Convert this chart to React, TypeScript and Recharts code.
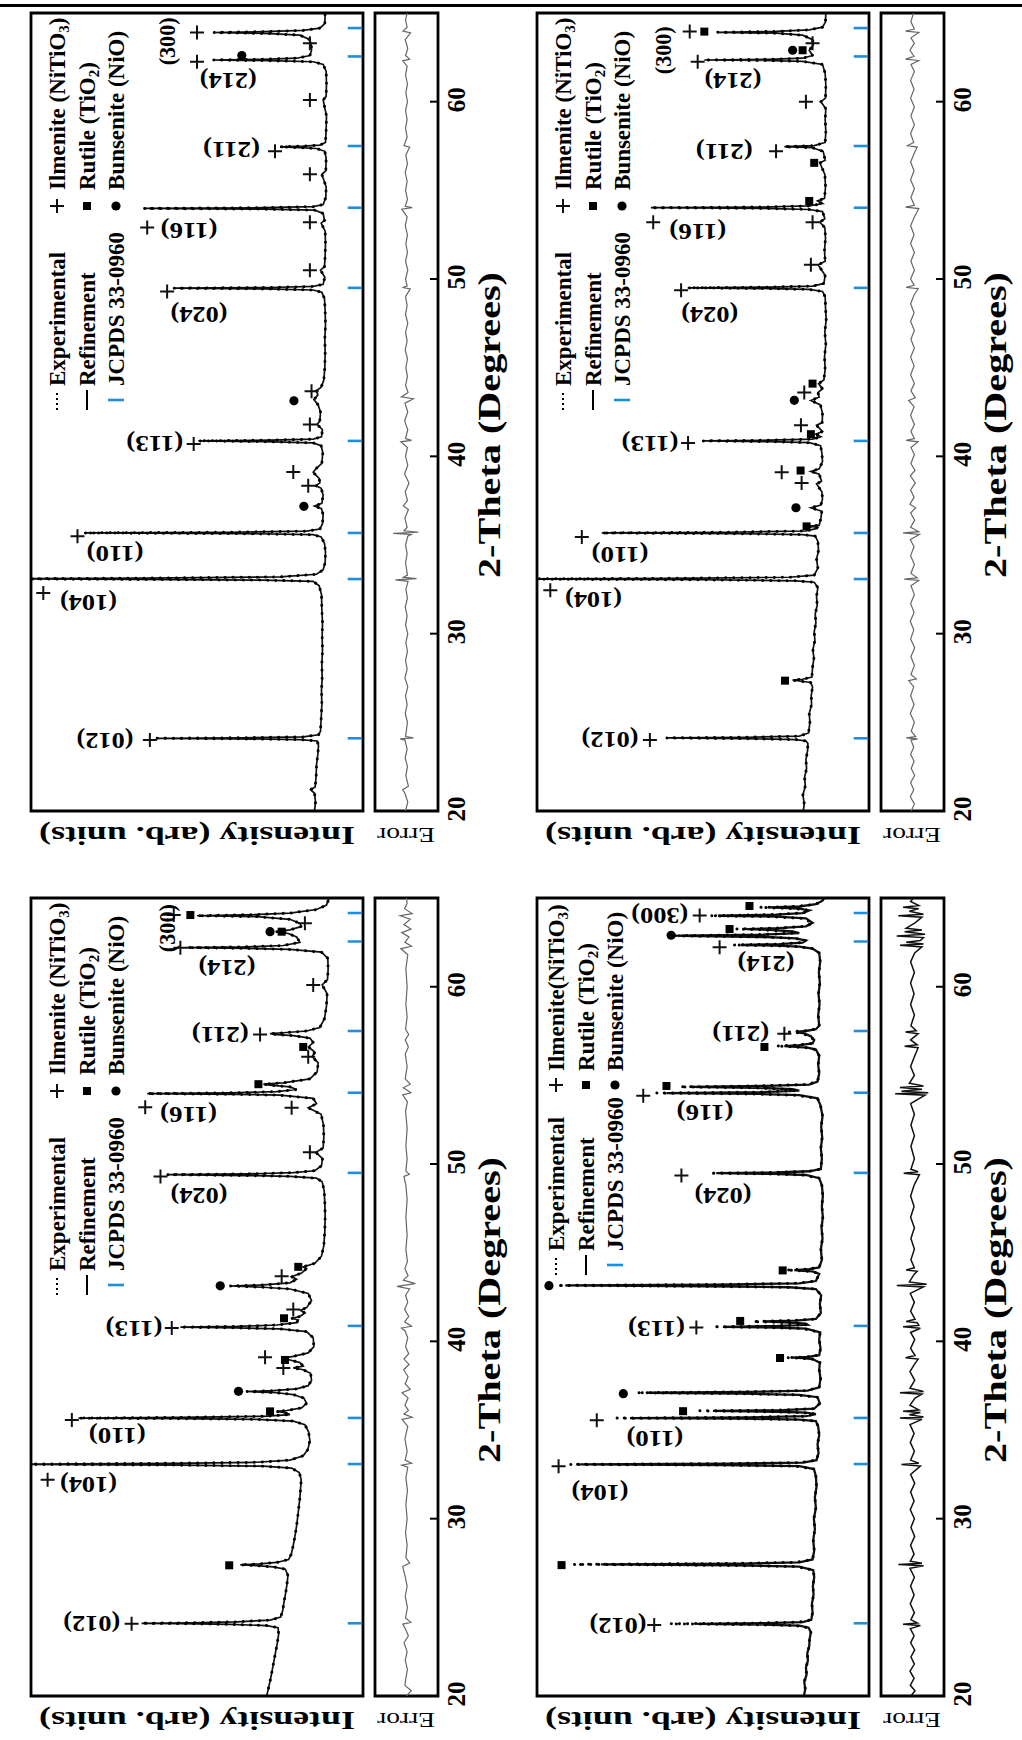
import React from "react";
import { ComposedChart, Line, Scatter, XAxis, YAxis, ReferenceArea, ReferenceLine } from "recharts";

const SERIF = "'Liberation Serif','Times New Roman',Times,serif";
const X_DOMAIN: [number, number] = [20, 65];
const X_TICKS = [20, 30, 40, 50, 60];
const JCPDS = [24.1, 33.08, 35.68, 40.87, 49.5, 54.02, 57.5, 62.55, 64.15];

// ---------- Top-left sample ----------
const TL_OBS: [number, number][] = [
  [20.0,14.6],[20.5,14.3],[21.0,14.6],[21.2,15.8],[21.35,14.4],[22.0,14.1],[22.6,14.0],[23.2,13.6],[23.7,13.4],
  [23.95,13.8],[24.03,19],[24.07,38],[24.1,62],[24.13,36],[24.18,18],[24.3,13.4],[24.5,12.8],
  [25.2,12.6],[26.0,12.4],[26.8,12.5],[27.5,12.3],[28.3,12.4],[29.0,12.2],[29.8,12.3],[30.6,12.2],[31.4,12.4],[32.2,12.5],[32.7,13.2],
  [32.95,15],[33.02,30],[33.06,70],[33.09,112],[33.13,65],[33.2,25],[33.35,14],[33.6,12.0],[34.0,11.4],[34.6,11.3],[35.1,11.6],[35.45,12.6],
  [35.58,15],[35.64,35],[35.68,84],[35.72,40],[35.78,17],[35.9,13],[36.2,12.2],[36.7,12.0],
  [37.05,12.5],[37.2,14.6],[37.35,12.4],[37.8,12.0],
  [38.2,12.6],[38.35,14.2],[38.5,13],[38.75,13.2],[39.1,15.0],[39.3,14.2],[39.6,12.4],[40.2,12.1],[40.6,12.6],
  [40.76,15],[40.83,30],[40.87,49.6],[40.91,28],[40.97,15],[41.1,12.5],[41.5,12.2],
  [41.8,13.8],[42.0,13.0],[42.5,12.8],[42.9,13.5],[43.2,14.8],[43.45,13.6],[43.7,14.0],[43.9,12.6],[44.3,11.8],[45.0,11.5],[45.8,11.4],[46.6,11.5],[47.4,11.3],[48.2,11.4],[48.9,11.6],[49.25,12.4],
  [49.38,15],[49.44,30],[49.48,57],[49.52,28],[49.58,15],[49.7,12],[50.1,11.5],[50.5,12.8],[50.7,11.6],[51.3,11.4],[52.0,11.3],[52.7,11.4],[53.15,12.6],[53.3,11.6],[53.7,12],
  [53.88,14.5],[53.94,30],[53.98,66],[54.02,30],[54.08,15],[54.2,12],[54.6,11.2],[55.2,11.1],[55.9,12.4],[56.1,11.2],[56.8,11.1],[57.2,11.5],
  [57.36,14],[57.41,19],[57.45,25],[57.49,18],[57.55,13],[57.7,11.3],[58.4,11.1],[59.2,11.0],[60.1,12.0],[60.3,11.1],[61.0,11.0],[61.7,11.1],[62.1,12],
  [62.25,15],[62.31,28],[62.35,45],[62.39,30],[62.45,20],[62.6,16],[62.9,15.5],[63.2,15.6],[63.5,16],[63.75,19],
  [63.84,28],[63.9,45],[63.95,30],[64.02,18],[64.15,13],[64.4,11.5],[65.0,11.4],
];
const TL_ERR: [number, number][] = [
  [20,0.3],[20.5,-0.4],[21,0.5],[21.2,1.2],[21.4,-0.6],[22,0.2],[22.5,-0.3],[23,0.4],[23.5,-0.2],[24.0,0.5],[24.07,2],[24.12,-2.2],[24.2,0.3],
  [25,-0.3],[25.5,0.4],[26,-0.2],[26.5,0.3],[27,-0.4],[27.5,0.5],[28,-0.2],[28.5,0.3],[29,-0.3],[29.5,0.2],[30,-0.4],[30.5,0.3],[31,-0.2],[31.5,0.4],[32,-0.3],[32.5,0.2],
  [32.95,-0.5],[33.03,3.5],[33.1,-3.2],[33.18,1],[33.3,-0.3],[34,0.3],[34.5,-0.2],[35,0.3],[35.5,-0.4],[35.6,-1.5],[35.66,4.2],[35.72,-3.8],[35.8,0.8],
  [36,-0.2],[36.5,0.5],[37,-0.6],[37.2,1],[37.5,-0.3],[38,0.4],[38.5,-0.8],[39,0.6],[39.5,-0.4],[40,0.3],[40.5,-0.3],[40.82,1.8],[40.9,-1.6],[41,0.3],
  [41.5,-0.4],[42,0.6],[42.5,-0.4],[43,0.5],[43.25,-2.2],[43.35,1.6],[43.6,-0.5],[44,0.3],[44.5,-0.3],[45,0.2],[45.5,-0.3],[46,0.4],[46.5,-0.2],[47,0.3],[47.5,-0.4],[48,0.3],[48.5,-0.2],[49,0.3],
  [49.44,-1.2],[49.52,1.3],[49.6,-0.2],[50,0.3],[50.5,-0.4],[51,0.3],[51.5,-0.3],[52,0.2],[52.5,-0.3],[53,0.4],[53.5,-0.2],[53.94,1.5],[54.02,-1.8],[54.1,0.4],
  [54.5,-0.3],[55,0.3],[55.5,-0.2],[56,0.4],[56.5,-0.3],[57,0.2],[57.43,-1],[57.52,0.8],[58,-0.2],[58.5,0.3],[59,-0.2],[59.5,0.3],[60,-0.3],[60.5,0.2],[61,-0.3],[61.5,0.3],[62,-0.2],
  [62.3,1.2],[62.4,-1.0],[62.6,0.3],[63,-0.4],[63.5,0.4],[63.88,-1.3],[63.98,1.1],[64.2,-0.2],[64.6,0.3],[65,-0.2],
];
const TL_ILM: [number, number][] = [
  [24.0,64.2],[32.3,96.3],[35.5,86],[38.34,16.5],[39.12,21],[40.7,51],[41.8,16],[43.67,15.5],[49.3,59],[50.5,16],[53.2,16],[52.9,65],[55.9,16],[57.2,26.5],[60.1,16],[62.25,50],[63.3,16],[63.9,50],
];
const TL_RUT: [number, number][] = [];
const TL_NIO: [number, number][] = [[37.18,17.8],[43.13,20.8],[62.6,36.5]];
const TL_HKL: [string, number, number, number][] = [
  ["(012)",23.98,77.7,0],["(104)",31.75,82.7,0],["(110)",34.5,74.7,0],["(113)",40.7,62.7,0],["(024)",48.0,49.4,0],
  ["(116)",52.75,52.4,0],["(211)",57.3,39.6,0],["(214)",61.2,40.6,0],["(300)",63.4,59,1],
];

// ---------- Top-right sample ----------
const TR_OBS: [number, number][] = [
  [20.0,19.8],[20.4,19.5],[20.9,19.9],[21.4,19.2],[21.9,19.4],[22.4,18.8],[22.9,19.0],[23.4,18.5],[23.8,18.4],[23.95,19],
  [24.03,22],[24.08,38],[24.12,61],[24.16,36],[24.22,21],[24.4,18.2],[25.0,17.8],[25.5,18.0],[26.0,17.3],[26.5,17.4],[27.0,17.0],[27.25,17.6],
  [27.33,21],[27.38,23],[27.43,20],[27.55,17.2],[28.1,17.0],[28.6,16.6],[29.1,16.9],[29.6,16.3],[30.1,16.5],[30.6,16.0],[31.1,16.2],[31.6,15.6],[32.1,15.8],[32.6,15.4],[32.9,16.5],
  [32.98,22],[33.04,50],[33.08,112],[33.12,60],[33.18,24],[33.3,16.5],[33.7,15.4],[34.2,15.8],[34.7,15.2],[35.2,15.4],[35.5,16.2],
  [35.59,20],[35.64,40],[35.68,80.5],[35.72,42],[35.79,19],[35.92,16],[36.0,15.5],[36.05,18],[36.12,15],[36.5,14.5],[36.9,14.2],[37.1,17.5],[37.25,14.5],
  [37.6,14.0],[38.0,14.2],[38.45,15.8],[38.6,14.3],[39.0,15],[39.15,17.5],[39.3,15],[39.7,14.0],[40.2,14.2],[40.6,14.6],
  [40.77,18],[40.83,30],[40.87,50],[40.91,30],[40.97,17],[41.1,14.5],[41.25,16],[41.4,14.0],[41.75,15.8],[41.9,14.1],[42.4,14.0],[42.9,14.6],[43.15,17.5],[43.35,15],[43.6,15.4],[43.8,14],[44.1,15.2],[44.3,13.6],
  [44.9,13.2],[45.6,13.4],[46.3,13.0],[47.0,13.3],[47.7,12.9],[48.4,13.1],[49.0,13.2],[49.3,14],
  [49.41,18],[49.46,30],[49.5,54.6],[49.54,30],[49.6,17],[49.75,13.6],[50.2,13.2],[50.8,15.3],[51.0,13.2],[51.6,13.4],[52.3,13.1],[52.9,13.3],[53.2,14.8],[53.4,13.3],[53.8,14],
  [53.92,18],[53.98,32],[54.02,65.7],[54.06,32],[54.12,18],[54.25,14],[54.4,15.5],[54.55,13.4],[55.2,13.1],[55.9,13.3],[56.55,14.8],[56.7,13.2],[57.2,13.8],
  [57.4,17],[57.46,25.5],[57.52,16.5],[57.7,13.2],[58.3,13.0],[59.0,13.2],[59.6,13.0],[60.0,14.5],[60.2,13.1],[60.9,13.0],[61.6,13.2],[62.1,14],
  [62.27,20],[62.32,32],[62.35,49.6],[62.39,30],[62.45,20],[62.6,17],[62.9,18],[63.2,16.8],[63.5,17],[63.75,20],
  [63.86,28],[63.91,45.6],[63.96,28],[64.05,18],[64.2,14],[64.5,13.1],[65,13],
];
const TR_ERR: [number, number][] = [
  [20,0.4],[20.4,-0.6],[20.8,0.7],[21.2,-0.4],[21.6,0.6],[22,-0.7],[22.4,0.4],[22.8,-0.5],[23.2,0.6],[23.6,-0.4],[24.0,0.5],[24.07,-1.6],[24.12,2],[24.2,-1],
  [24.5,0.4],[25,-0.6],[25.5,0.7],[26,-0.5],[26.5,0.6],[27,-0.4],[27.35,1.2],[27.45,-1.2],[27.7,0.5],[28.2,-0.6],[28.7,0.5],[29.2,-0.7],[29.7,0.6],[30.2,-0.4],[30.7,0.7],
  [31.2,-0.5],[31.7,0.6],[32.2,-0.6],[32.7,0.5],[33.0,-2],[33.08,2.6],[33.15,-1.5],[33.4,0.5],[33.9,-0.6],[34.4,0.6],[34.9,-0.5],[35.3,0.7],[35.6,-2.2],[35.68,3],[35.75,-2],
  [36,0.6],[36.4,-0.7],[36.8,0.6],[37.1,-1],[37.3,0.8],[37.7,-0.5],[38.1,0.6],[38.5,-0.9],[38.9,0.7],[39.2,-0.8],[39.6,0.5],[40.1,-0.6],[40.5,0.5],[40.82,-1.8],[40.9,2],
  [41,-0.6],[41.4,0.5],[41.8,-0.6],[42.3,0.6],[42.8,-0.5],[43.15,1.2],[43.3,-0.9],[43.7,0.5],[44.1,-0.6],[44.6,0.6],[45.1,-0.5],[45.6,0.6],[46.1,-0.6],[46.6,0.5],[47.1,-0.6],
  [47.6,0.6],[48.1,-0.5],[48.6,0.6],[49.1,-0.5],[49.45,-1.8],[49.53,2],[49.65,-0.5],[50,0.6],[50.5,-0.6],[51,0.5],[51.5,-0.6],[52,0.6],[52.5,-0.5],[53,0.6],[53.5,-0.6],
  [53.97,-2],[54.05,2.2],[54.15,-0.6],[54.6,0.5],[55.1,-0.6],[55.6,0.6],[56.1,-0.5],[56.6,0.6],[57.1,-0.6],[57.44,-1.5],[57.52,1.6],[57.7,-0.4],[58.2,0.6],[58.7,-0.6],
  [59.2,0.5],[59.7,-0.6],[60.2,0.6],[60.7,-0.5],[61.2,0.6],[61.7,-0.6],[62.1,0.5],[62.32,-2],[62.4,2.2],[62.55,-0.5],[62.9,0.8],[63.3,-0.6],[63.6,0.5],[63.9,-2],[63.98,2.2],
  [64.1,-0.6],[64.5,0.5],[65,-0.3],
];
const TR_ILM: [number, number][] = [
  [24.0,66],[32.45,96],[35.45,86.5],[38.5,20.3],[39.1,26.3],[40.75,54.5],[41.75,20.5],[43.6,19.5],[49.36,56.6],[50.8,17.5],[53.2,17],[53.2,65],[57.2,28],[60.0,19],[62.25,51.6],[63.3,17],[63.95,54],
];
const TR_RUT: [number, number][] = [[27.35,25.3],[36.05,18.8],[39.2,20.6],[41.25,17.5],[44.1,17],[54.4,18],[56.55,16.5],[62.9,20],[63.95,49.6]];
const TR_NIO: [number, number][] = [[37.1,22],[43.16,22.5],[62.9,23]];
const TR_HKL: [string, number, number, number][] = [
  ["(012)",24.05,78,0],["(104)",31.9,83,0],["(110)",34.45,75,0],["(113)",40.75,66,0],["(024)",48.0,48,0],
  ["(116)",52.7,51.6,0],["(211)",57.2,43.6,0],["(214)",61.2,41,0],["(300)",62.9,62,1],
];

// ---------- Bottom-left sample ----------
const BL_OBS: [number, number][] = [
  [20.0,29.0],[20.5,28.4],[21.0,27.8],[21.5,27.3],[22.0,26.8],[22.5,26.3],[23.0,25.8],[23.5,25.4],[23.85,25.6],
  [23.97,29],[24.04,40],[24.08,55],[24.1,66.7],[24.13,52],[24.18,38],[24.28,28],[24.45,24.8],[24.8,24.2],[25.3,23.8],[25.8,23.3],[26.3,22.9],[26.8,22.6],[27.15,23.4],
  [27.28,27],[27.35,32],[27.4,37],[27.45,31],[27.53,26],[27.7,22.4],[28.0,21.6],[28.5,21.0],[29.0,20.5],[29.6,20.0],[30.2,19.6],[30.7,19.3],[31.2,19.0],[31.7,18.8],[32.2,18.6],[32.6,19.2],[32.85,21.5],
  [32.96,30],[33.02,55],[33.07,112],[33.12,58],[33.18,32],[33.3,22],[33.55,18],[33.9,16.6],[34.4,16.0],[34.9,16.4],[35.3,17.5],[35.5,21],
  [35.6,32],[35.64,55],[35.67,85.7],[35.71,55],[35.77,30],[35.87,22],[35.95,23],[36.0,24.5],[36.05,26],[36.1,23],[36.25,18.5],[36.5,17],[36.8,17.8],
  [37.0,21],[37.1,26],[37.17,35],[37.22,27],[37.32,20],[37.5,16.5],[37.8,15.5],[38.2,15.8],[38.4,18],[38.5,21],[38.6,18],[38.8,19],[38.95,22],[39.05,24],[39.15,21],[39.35,16.5],[39.7,14.8],[40.2,15.0],[40.55,17],[40.7,25],
  [40.76,38],[40.8,55],[40.84,38],[40.92,26],[41.05,20],[41.2,19.5],[41.3,21.5],[41.4,19],[41.6,17.5],[41.75,18.8],[41.9,17],[42.3,15.5],[42.7,16.5],
  [42.95,22],[43.05,30],[43.12,40],[43.18,30],[43.3,22],[43.5,20],[43.65,21.5],[43.85,18.5],[44.1,17],[44.2,18],[44.4,14.5],[44.8,12.5],[45.4,11.8],[46.2,11.5],[47.0,11.4],[47.8,11.5],[48.5,11.7],[49.0,12.3],[49.2,14],
  [49.3,22],[49.35,35],[49.4,59],[49.44,35],[49.51,21],[49.62,14.5],[49.9,12.5],[50.3,12.2],[50.66,14.2],[50.9,12.0],[51.5,11.8],[52.2,11.9],[52.8,12.6],[53.17,16.5],[53.4,14],[53.7,15],
  [53.88,25],[53.93,38],[53.97,65],[54.01,40],[54.08,26],[54.2,20],[54.35,22],[54.45,28],[54.5,30],[54.58,24],[54.8,16],[55.2,13.8],[55.7,13.5],[56.05,15.3],[56.3,14.5],[56.6,16.4],[56.85,15],[57.1,16],
  [57.24,21],[57.3,26],[57.35,28],[57.4,24],[57.5,17],[57.7,13],[58.2,11.6],[58.9,11.0],[59.6,10.8],[60.1,12.3],[60.4,10.7],[61.0,10.5],[61.6,10.6],[61.95,12.5],
  [62.1,22],[62.16,35],[62.2,53],[62.24,36],[62.32,24],[62.5,19],[62.8,20],[63.0,22.5],[63.1,26],[63.2,22],[63.4,18.5],[63.57,19],[63.8,22],
  [63.95,32],[64.0,50],[64.06,33],[64.15,22],[64.35,14],[64.6,11],[65.0,10.2],
];
const BL_ERR: [number, number][] = [
  [20,0],[20.3,-1.5],[20.6,0.5],[21,0.2],[21.5,-0.3],[22,0.4],[22.5,-0.2],[23,0.8],[23.4,-0.6],[23.8,0.4],[24.05,1.2],[24.15,-1.4],[24.4,0.3],[25,-0.3],[25.6,0.4],[26.2,-0.2],
  [26.8,0.5],[27.3,1.2],[27.5,-1],[27.8,0.2],[28.5,-0.2],[29.2,0.3],[30,-0.2],[30.8,0.2],[31.6,-0.3],[32.3,0.2],[32.9,-0.4],[33.02,1.5],[33.12,-1.6],[33.3,0.4],[33.8,-0.2],
  [34.5,0.5],[35.2,-0.4],[35.6,1.4],[35.72,-1.8],[35.9,0.8],[36.1,-0.6],[36.4,0.5],[36.8,-0.5],[37.1,1.4],[37.3,-1.2],[37.6,0.4],[38,-0.5],[38.4,0.9],[38.7,-0.8],[39.0,0.8],
  [39.3,-0.7],[39.7,0.3],[40.2,-0.4],[40.6,0.5],[40.75,1.6],[40.85,-1.6],[41.1,0.6],[41.4,-0.7],[41.8,0.6],[42.2,-0.4],[42.6,0.3],[42.95,-1],[43.1,3],[43.25,-2.8],[43.45,1],
  [43.7,-0.5],[44.1,0.5],[44.5,-0.3],[45.2,0.2],[46,-0.2],[47,0.2],[48,-0.2],[48.8,0.2],[49.3,0.8],[49.42,-0.9],[49.6,0.2],[50.3,-0.2],[51,0.2],[52,-0.2],[53,0.3],[53.5,-0.3],
  [53.9,1.2],[54.02,-1.4],[54.3,1.0],[54.5,-1.2],[54.8,0.4],[55.5,-0.2],[56.2,0.4],[56.6,-0.6],[57,0.4],[57.3,-0.7],[57.6,0.3],[58.3,-0.2],[59,0.2],[60,-0.2],[61,0.2],
  [61.8,-0.4],[62.15,1.8],[62.28,-1.6],[62.5,0.5],[62.8,-0.8],[63.05,1.5],[63.25,-1.4],[63.5,0.8],[63.8,-1.2],[64.0,2],[64.12,-1.8],[64.4,0.6],[64.7,-0.2],[65,0],
];
const BL_ILM: [number, number][] = [
  [24.07,69.7],[32.2,95],[35.57,87.7],[38.5,24],[39.1,29.5],[40.75,57.6],[41.8,21],[43.67,24.5],[49.3,61],[50.66,16],[53.17,21.5],[53.2,65.6],[56.05,16.5],[57.3,31],[60.1,15],[62.2,55],[63.57,17.5],[64.04,57],
];
const BL_RUT: [number, number][] = [[27.37,40.3],[36.05,28],[38.95,23.5],[41.3,23.8],[44.2,19.5],[54.5,31.5],[56.6,18],[63.1,24.5],[64.04,52]];
const BL_NIO: [number, number][] = [[37.18,37.5],[43.13,43],[63.1,28]];
const BL_HKL: [string, number, number, number][] = [
  ["(012)",24.07,81.7,0],["(104)",31.9,82.7,0],["(110)",34.7,74,0],["(113)",40.75,69,0],["(024)",48.2,49.4,0],
  ["(116)",52.8,52.6,0],["(211)",57.3,43,0],["(214)",61.06,41,0],["(300)",63.3,59,1],
];

// ---------- Bottom-right sample (observed, calculated) ----------
const BR_OBS: [number, number, number][] = [
  [20.0,19.6,19.6],[20.4,19.2,19.2],[20.8,19.5,19.5],[21.2,18.8,18.8],[21.6,19.0,19.0],[22.0,18.4,18.4],[22.4,18.6,18.6],[22.8,18.0,18.0],[23.2,17.9,17.9],[23.6,17.5,17.5],[23.85,18.2,18.2],
  [23.97,22,21],[24.03,36,33],[24.07,60,52],[24.11,34,31],[24.17,21,20],[24.3,17.4,17.4],[24.7,17.0,17.0],[25.2,17.2,17.2],[25.7,16.7,16.7],[26.2,16.9,16.9],[26.7,16.5,16.5],[27.1,16.8,16.8],
  [27.3,22,21],[27.37,45,40],[27.42,89,80.7],[27.47,42,38],[27.54,22,21],[27.7,17,17],[28.2,16.5,16.5],[28.8,16.8,16.8],[29.4,16.3,16.3],[30.0,16.6,16.6],[30.6,16.0,16.0],[31.2,16.3,16.3],[31.8,15.8,15.8],[32.4,16.0,16.0],[32.8,16.6,16.6],
  [32.96,22,21],[33.02,45,44],[33.06,90,87],[33.1,44,42],[33.16,21,20],[33.3,15.8,15.8],[33.7,15.2,15.2],[34.2,15.5,15.5],[34.7,15.0,15.0],[35.2,15.3,15.3],[35.5,16,16],
  [35.59,22,21],[35.64,40,38],[35.67,76,72],[35.71,38,36],[35.78,20,19],[35.9,16,16],
  [35.98,20,19],[36.03,30,28],[36.08,51,47],[36.12,28,26],[36.2,16.5,16.5],[36.5,14.8,14.8],[36.85,15.5,15.5],
  [36.98,22,21],[37.05,40,38],[37.1,70,66.5],[37.15,38,36],[37.22,19,18.5],[37.4,15,15],[37.9,14.6,14.6],[38.4,15,15],[38.8,14.8,14.8],
  [39.0,17,17],[39.05,21,20],[39.08,25,23],[39.12,19,18.5],[39.22,15,15],[39.6,14.6,14.6],[40.1,15,15],[40.5,14.7,14.7],
  [40.72,20,19],[40.78,30,28],[40.82,47,44],[40.86,30,28],[40.94,19,18.5],[41.0,20,19],[41.06,26,24],[41.12,35,32],[41.17,24,22],[41.26,16,16],[41.6,14.5,14.5],[42.1,14.8,14.8],[42.6,14.4,14.4],[42.95,16,16],
  [43.05,25,24],[43.1,50,48],[43.15,94,91.5],[43.2,48,46],[43.27,22,21],[43.4,16,16],[43.8,15,15],
  [43.94,17,17],[43.98,21,20],[44.02,25,22.5],[44.07,19,18],[44.17,15,15],[44.6,14.2,14.2],[45.2,14.5,14.5],[45.8,14.0,14.0],[46.4,14.3,14.3],[47.0,13.9,13.9],[47.6,14.2,14.2],[48.2,13.9,13.9],[48.8,14.2,14.2],[49.2,15,15],
  [49.38,20,19],[49.44,30,29],[49.48,48,46],[49.52,29,28],[49.59,18,18],[49.72,14.5,14.5],[50.3,14.2,14.2],[50.9,14.5,14.5],[51.5,14.1,14.1],[52.1,14.4,14.4],[52.7,14.0,14.0],[53.3,14.6,14.6],[53.7,15.5,15.5],
  [53.88,22,21],[53.95,35,33],[54.0,64,61],[54.05,34,32],[54.14,22,21],[54.22,24,23],[54.3,36,34],[54.35,57,54],[54.4,33,31],[54.48,19,18],[54.65,15.5,15.5],[55.1,15.0,15.0],[55.6,15.3,15.3],[56.1,15.0,15.0],[56.45,16,16],
  [56.56,19,18.5],[56.61,23,22],[56.65,28,25.5],[56.7,22,21],[56.8,17,17],[57.0,16.5,16.5],[57.2,18,17.5],
  [57.36,20,19.5],[57.41,22,21],[57.45,24,22],[57.5,20,19],[57.6,16,16],[57.8,15,15],[58.4,15.3,15.3],[59.0,14.9,14.9],[59.6,15.2,15.2],[60.2,14.8,14.8],[60.8,15.1,15.1],[61.4,14.7,14.7],[61.9,15,15],[62.15,17,17],
  [62.26,22,21],[62.31,30,28],[62.35,41,38.5],[62.4,28,27],[62.48,20,20],[62.6,19,19],[62.72,22,22],[62.8,32,31],[62.87,59,57],[62.93,34,32],[63.02,22,21],[63.12,24,23],[63.2,32,30],[63.25,40,37],[63.3,28,27],[63.4,19,19],[63.6,17,17],[63.85,20,19],
  [63.95,30,28],[64.0,48,45.5],[64.06,30,28],[64.15,20,20],[64.3,18,18],[64.4,22,21],[64.47,33,30],[64.52,22,21],[64.65,16,16],[64.85,14,14],[65,13.6,13.6],
];
const BR_ERR: [number, number][] = [
  [20,0.5],[20.3,-0.8],[20.6,0.7],[21,-0.5],[21.4,0.8],[21.8,-0.6],[22.2,0.5],[22.6,-0.7],[23,0.6],[23.4,-0.5],[23.8,0.7],[23.97,-2.5],[24.05,3],[24.12,-1.5],[24.3,0.5],
  [24.7,-0.6],[25.2,0.7],[25.7,-0.5],[26.2,0.6],[26.7,-0.6],[27.2,0.8],[27.35,-3.5],[27.42,4.5],[27.49,-3],[27.6,0.7],[28,-0.5],[28.5,0.6],[29,-0.7],[29.5,0.5],[30,-0.6],
  [30.5,0.7],[31,-0.5],[31.5,0.6],[32,-0.7],[32.5,0.6],[32.97,-2.5],[33.06,3.5],[33.13,-2],[33.3,0.6],[33.8,-0.6],[34.3,0.7],[34.8,-0.5],[35.3,0.8],[35.6,-3],[35.67,4],
  [35.74,-3.5],[35.86,1],[35.99,-2.5],[36.06,3],[36.13,-2],[36.4,0.8],[36.8,-0.8],[37.02,-3],[37.1,4],[37.17,-3.5],[37.35,0.8],[37.8,-0.7],[38.3,0.8],[38.7,-0.6],[39.0,-1.8],
  [39.08,2.2],[39.2,-0.8],[39.6,0.6],[40.1,-0.7],[40.5,0.6],[40.74,-2.5],[40.82,3],[40.9,-2],[41.05,-1.5],[41.12,2],[41.25,-0.8],[41.7,0.6],[42.2,-0.6],[42.7,0.7],[43.07,-3.5],
  [43.15,5],[43.22,-4.5],[43.35,1],[43.8,-0.6],[43.95,-1.5],[44.02,2],[44.15,-0.6],[44.6,0.5],[45.2,-0.6],[45.8,0.5],[46.4,-0.6],[47,0.6],[47.6,-0.5],[48.2,0.6],[48.8,-0.5],
  [49.4,-2.2],[49.48,2.8],[49.56,-1.8],[49.7,0.5],[50.3,-0.6],[51,0.5],[51.6,-0.6],[52.2,0.5],[52.8,-0.6],[53.4,0.6],[53.88,-4],[53.96,5.5],[54.02,-5],[54.1,3.5],[54.22,-3],
  [54.32,4],[54.4,-3.5],[54.55,1],[55,-0.6],[55.5,0.6],[56,-0.5],[56.56,-1.8],[56.64,2.5],[56.72,-1.5],[57.0,0.6],[57.35,-1.8],[57.44,2.2],[57.52,-1.2],[57.8,0.5],[58.4,-0.6],
  [59,0.6],[59.6,-0.5],[60.2,0.6],[60.8,-0.6],[61.4,0.6],[61.9,-0.7],[62.24,-3],[62.33,4],[62.41,-3.5],[62.5,2],[62.6,-2.5],[62.77,-3.5],[62.86,5],[62.95,-4],[63.1,2.5],
  [63.2,-3],[63.3,2],[63.6,-0.8],[63.92,-3],[64.0,4.5],[64.08,-3.5],[64.25,1],[64.4,-2],[64.48,3],[64.58,-2],[64.8,0.6],[65,-0.3],
];
const BR_ILM: [number, number][] = [[24.0,64.7],[32.95,93.5],[35.55,82],[40.78,52],[49.35,56.5],[53.85,68],[57.35,25.5],[62.22,45],[64.02,51]];
const BR_RUT: [number, number][] = [[27.38,92.6],[36.06,56],[39.06,26.8],[41.15,38.8],[44.0,26],[54.4,61],[56.6,31.5],[63.25,42],[64.55,36]];
const BR_NIO: [number, number][] = [[37.05,74],[43.14,96.4],[62.9,59.6]];
const BR_HKL: [string, number, number, number][] = [
  ["(012)",24.0,75.6,0],["(104)",31.5,81,0],["(110)",34.5,64.5,0],["(113)",40.7,64,0],["(024)",48.2,44,0],
  ["(116)",52.9,49.4,0],["(211)",57.35,38.6,0],["(214)",61.3,31,0],["(300)",64.0,63,0],
];

const TICK_LABELS = ["20", "30", "40", "50", "60"];

// ---------- geometry (unrotated panel: 870 x 511) ----------
const PW = 870;
const PH = 511;
const MARGIN_MAIN = { top: 31, right: 13, bottom: 12, left: 59 };
const MAIN_H = 375;
const ERR_TOP = 365;
const ERR_H = 146;

type Cfg = {
  px: number; py: number;
  rows: { t: number; o: number; c: number }[];
  err: { t: number; e: number }[];
  ilm: { t: number; i: number }[];
  rut: { t: number; i: number }[];
  nio: { t: number; i: number }[];
  hkl: { t: number; i: number; s: string; h: number }[];
  dark: boolean;
  legend: "a" | "b";
};

const pts = (a: [number, number][]) => a.map(([t, i]) => ({ t, i }));
const hk = (a: [string, number, number, number][]) => a.map(([s, t, i, h]) => ({ s, t, i, h }));

const PANELS: Cfg[] = [
  { px: 0, py: 0, rows: TL_OBS.map(([t, o]) => ({ t, o, c: o })), err: TL_ERR.map(([t, e]) => ({ t, e })), ilm: pts(TL_ILM), rut: pts(TL_RUT), nio: pts(TL_NIO), hkl: hk(TL_HKL), dark: false, legend: "a" },
  { px: 506, py: 0, rows: TR_OBS.map(([t, o]) => ({ t, o, c: o })), err: TR_ERR.map(([t, e]) => ({ t, e })), ilm: pts(TR_ILM), rut: pts(TR_RUT), nio: pts(TR_NIO), hkl: hk(TR_HKL), dark: false, legend: "a" },
  { px: 0, py: 885, rows: BL_OBS.map(([t, o]) => ({ t, o, c: o })), err: BL_ERR.map(([t, e]) => ({ t, e })), ilm: pts(BL_ILM), rut: pts(BL_RUT), nio: pts(BL_NIO), hkl: hk(BL_HKL), dark: false, legend: "a" },
  { px: 506, py: 885, rows: BR_OBS.map(([t, o, c]) => ({ t, o, c })), err: BR_ERR.map(([t, e]) => ({ t, e })), ilm: pts(BR_ILM), rut: pts(BR_RUT), nio: pts(BR_NIO), hkl: hk(BR_HKL), dark: true, legend: "b" },
];

const PlusShape = (p: any) => {
  const { cx, cy } = p;
  if (cx == null || cy == null) return <g />;
  return <path d={`M${cx - 7},${cy}H${cx + 7}M${cx},${cy - 7}V${cy + 7}`} stroke="#111" strokeWidth={2} fill="none" />;
};
const SquareShape = (p: any) => {
  const { cx, cy } = p;
  if (cx == null || cy == null) return <g />;
  return <rect x={cx - 4} y={cy - 4} width={8} height={8} fill="#000" />;
};
const DotShape = (p: any) => {
  const { cx, cy } = p;
  if (cx == null || cy == null) return <g />;
  return <circle cx={cx} cy={cy} r={4.6} fill="#000" />;
};
const HklShape = (p: any) => {
  const { cx, cy, payload } = p;
  if (cx == null || cy == null) return <g />;
  const horiz = payload && payload.h === 1;
  return (
    <text
      x={cx}
      y={cy}
      transform={horiz ? undefined : `rotate(-90 ${cx} ${cy})`}
      textAnchor="middle"
      dominantBaseline="central"
      fontFamily={SERIF}
      fontWeight="bold"
      fontSize={23}
      textLength={horiz ? 48 : 57}
      lengthAdjust="spacingAndGlyphs"
      fill="#000"
    >
      {payload.s}
    </text>
  );
};

const TickShape = (p: any) => {
  const { x, y, payload, index } = p;
  return (
    <g>
      <line x1={x} x2={x} y1={y - 8} y2={y} stroke="#000" strokeWidth={2} />
      <text x={x + 2} y={y + 18} textAnchor="middle" dominantBaseline="central" fontFamily={SERIF} fontWeight="bold" fontSize={25} fill="#000">
        {TICK_LABELS[index] ?? payload.value}
      </text>
    </g>
  );
};

function LegendBox({ v }: { v: "a" | "b" }) {
  const rows = v === "a" ? [57, 87, 116] : [50, 80, 109];
  const x1 = v === "a" ? 484 : 504;
  const ic = v === "a" ? 470 : 490;
  const mk = v === "a" ? 664 : 670;
  const x2 = v === "a" ? 680 : 684;
  const fs = 23;
  const common = { fontFamily: SERIF, fontWeight: "bold" as const, fontSize: fs, fill: "#000", dominantBaseline: "central" as const };
  return (
    <g>
      <line x1={ic - 10} x2={ic + 10} y1={rows[0]} y2={rows[0]} stroke="#000" strokeWidth={2} strokeDasharray="2 3" />
      <text x={x1} y={rows[0]} {...common}>Experimental</text>
      <line x1={ic - 10} x2={ic + 10} y1={rows[1]} y2={rows[1]} stroke="#000" strokeWidth={2} />
      <text x={x1} y={rows[1]} {...common}>Refinement</text>
      <line x1={ic} x2={ic} y1={rows[2] - 8} y2={rows[2] + 8} stroke="#1f8fdc" strokeWidth={2.6} />
      <text x={x1} y={rows[2]} {...common}>JCPDS 33-0960</text>
      <path d={`M${mk - 7},${rows[0]}H${mk + 7}M${mk},${rows[0] - 7}V${rows[0] + 7}`} stroke="#111" strokeWidth={2} />
      <text x={x2} y={rows[0]} {...common}>
        {v === "a" ? "Ilmenite (NiTiO" : "Ilmenite(NiTiO"}
        <tspan fontSize={15} dy={7}>3</tspan>
        <tspan dy={-7}>)</tspan>
      </text>
      <rect x={mk - 4} y={rows[1] - 4} width={8} height={8} fill="#000" />
      <text x={x2} y={rows[1]} {...common}>
        Rutile (TiO<tspan fontSize={15} dy={7}>2</tspan>
        <tspan dy={-7}>)</tspan>
      </text>
      <circle cx={mk} cy={rows[2]} r={4.6} fill="#000" />
      <text x={x2} y={rows[2]} {...common}>Bunsenite (NiO)</text>
    </g>
  );
}

function Panel({ cfg }: { cfg: Cfg }) {
  const lineW = cfg.dark ? 2.3 : 1.7;
  return (
    <div
      style={{
        position: "absolute",
        left: 0,
        top: 0,
        width: PW,
        height: PH,
        transformOrigin: "0 0",
        transform: `translate(${cfg.px}px, ${cfg.py + PW}px) rotate(-90deg)`,
      }}
    >
      <div style={{ position: "absolute", left: 0, top: 0 }}>
        <ComposedChart width={PW} height={MAIN_H} data={cfg.rows} margin={MARGIN_MAIN}>
          <XAxis type="number" dataKey="t" domain={X_DOMAIN} allowDataOverflow hide />
          <YAxis type="number" domain={[0, 100]} allowDataOverflow hide width={0} />
          <ReferenceArea x1={20} x2={65} y1={0} y2={100} fill="none" fillOpacity={0} stroke="#000" strokeWidth={2.8} ifOverflow="visible" />
          {JCPDS.map((p) => (
            <ReferenceLine key={p} segment={[{ x: p, y: 0.3 }, { x: p, y: 4.6 }]} stroke="#1f8fdc" strokeWidth={2.6} ifOverflow="visible" />
          ))}
          <Line type="linear" dataKey="c" stroke="#111" strokeWidth={lineW} dot={false} activeDot={false} isAnimationActive={false} />
          <Line type="linear" dataKey="o" stroke="#000" strokeWidth={3} strokeDasharray="0.1 8" strokeLinecap="round" dot={false} activeDot={false} isAnimationActive={false} />
          <Scatter data={cfg.ilm} dataKey="i" shape={PlusShape} isAnimationActive={false} />
          <Scatter data={cfg.rut} dataKey="i" shape={SquareShape} isAnimationActive={false} />
          <Scatter data={cfg.nio} dataKey="i" shape={DotShape} isAnimationActive={false} />
          <Scatter data={cfg.hkl} dataKey="i" shape={HklShape} isAnimationActive={false} />
        </ComposedChart>
      </div>
      <div style={{ position: "absolute", left: 0, top: ERR_TOP }}>
        <ComposedChart width={PW} height={ERR_H} data={cfg.err} margin={{ top: 10, right: 13, bottom: 0, left: 59 }}>
          <XAxis
            type="number"
            dataKey="t"
            domain={X_DOMAIN}
            ticks={X_TICKS}
            interval={0}
            allowDataOverflow
            height={73}
            axisLine={false}
            tickLine={false}
            tickSize={0}
            tickMargin={0}
            tick={TickShape}
          />
          <YAxis type="number" domain={[-10, 10]} allowDataOverflow hide width={0} />
          <ReferenceArea x1={20} x2={65} y1={-10} y2={10} fill="none" fillOpacity={0} stroke="#000" strokeWidth={2.8} ifOverflow="visible" />
          <Line type="linear" dataKey="e" stroke={cfg.dark ? "#111" : "#666"} strokeWidth={cfg.dark ? 1.5 : 1.2} dot={false} activeDot={false} isAnimationActive={false} />
        </ComposedChart>
      </div>
      <svg width={PW} height={PH} style={{ position: "absolute", left: 0, top: 0, overflow: "visible", pointerEvents: "none" }}>
        <LegendBox v={cfg.legend} />
        <text x={35} y={197} transform="rotate(-90 35 197)" textAnchor="middle" dominantBaseline="central" fontFamily={SERIF} fontWeight="bold" fontSize={26} textLength={316} lengthAdjust="spacingAndGlyphs">
          Intensity (arb. units)
        </text>
        <text x={35} y={406} transform="rotate(-90 35 406)" textAnchor="middle" dominantBaseline="central" fontFamily={SERIF} fontSize={20} textLength={58} lengthAdjust="spacingAndGlyphs">
          Error
        </text>
        <text x={445} y={489} textAnchor="middle" dominantBaseline="central" fontFamily={SERIF} fontWeight="bold" fontSize={32} textLength={306} lengthAdjust="spacingAndGlyphs">
          2-Theta (Degrees)
        </text>
      </svg>
    </div>
  );
}

export default function App() {
  return (
    <div style={{ position: "absolute", left: 0, top: 0, width: 1022, height: 1740, overflow: "hidden", background: "#fff" }}>
      <div style={{ position: "absolute", left: 0, top: 4, width: 1022, height: 3, background: "#000" }} />
      {PANELS.map((cfg, k) => (
        <Panel key={k} cfg={cfg} />
      ))}
    </div>
  );
}
